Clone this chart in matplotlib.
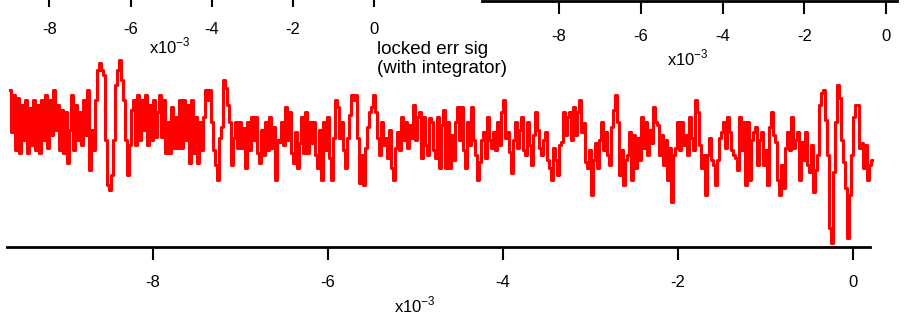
import numpy as np
import matplotlib
matplotlib.use("Agg")
import matplotlib.pyplot as plt

plt.rcParams["font.family"] = ["Liberation Sans", "DejaVu Sans"]

# locked error signal (arbitrary units) in six chunks, left to right
seg_a = [35, -7, 30, -25, 27, -28, 20, -15, 25, -28, 17, -20, 25, -25, 20, -28, 25, -15, 30, -23,
         25, -10, 35, -5, 20, -25, 15, -28, 13, -38, -5, 30, -25, 20, -15, 13, -20, 25, -10, 35,
         -45, -5, -25, 25, 55, 62, 55, 50, -15, -60, -65, -50, -15, 40, 55, 65, 45, 25, -15, -50,
         -20, 15, 25, -20, 30, -15, 25, -5, 30, -20, 20, -15, 25]
seg_b = [-12, 13, 30, -12, 25, -28, 3, -28, 18, -23, 8, -23, 25, -23, 25, -15, 20, -38, 25, -28,
         8, -38, 3, -25, 8, 35, 25, 35, 3, -25, -40, -55, -13, -2, 45, 37, 20, 3, -40, -13,
         3, -23, 3, -23, -3, -43, 3, -25, 8, -15, 8, -28, -38, -5, -30, 3, -25, 8, -23, -2,
         -55, -15, -17, 3, -20, 18, -15, 13, -28, -38, -7, -43, -18]
seg_c = [8, -28, 13, -28, 3, -18, 3, -30, -43, -5, -55, 3, -25, 8, -33, -55, -13, 25, 18, -13,
         3, -25, -43, -13, 10, 30, 25, 30, -13, -58, -30, -60, -23, -2, 13, 18, 30, 13, -13, -30,
         3, -20, -13, -33, -5, -43, -55, -23, -7, -25, 8, -15, 3, -23, 0, -13, 20, -15, 8, 13,
         -33, 8, -20, -30, 7, 3, -25, -33, 8, -43, 0, 15]
seg_d = [-43, 3, -43, -10, -35, 3, 18, -15, 18, -25, -43, 3, -20, 18, -15, -30, -55, -37, -15, -7,
         -33, 8, -15, -23, -7, -25, 3, -20, 13, 25, -13, -7, -27, -48, -15, 3, -23, -5, 8, -25,
         -30, 3, -20, -40, -10, 13, -5, -23, -30, -15, -7, -35, -43, -55, -23, -35, -50, -20, -17, 13,
         -10, 8, 13, -15, 18, -10, 13, 25, -7, 2, -37, -43, -25]
seg_e = [-70, -35, -18, -43, -15, 3, -25, -7, -30, -40, -2, 15, 30, 3, -50, -25, -60, -35, -30, -7,
         -55, -10, -43, -13, -35, 8, -23, 3, -30, -5, -18, 18, 3, 0, -30, -10, -40, -15, -55, -23,
         -77, -30, -23, 3, -25, 3, -20, -10, -30, 8, -13, -25, 25, 13, -20, -43, -30, -70, -30, -13,
         -35, -40, -60, -35, -13, -7, 3, -23, 8, -7, -25, -30]
seg_f = [-33, -45, 8, -25, 3, -60, 3, -55, -15, -7, -2, -40, -15, -7, -40, -25, -60, -2, 13, -10,
         -17, -55, -70, -40, -63, -23, -7, -25, 8, -23, -15, -7, -55, -17, -35, -7, -40, -47, -20, -67,
         -45, -30, 20, 32, 35, 5, -30, -103, -118, -47, 3, 40, 27, -15, -37, -63, -113, -70, -30, 8,
         20, 20, -23, -18, -43, -20, -55, -40, -35]
err_sig = np.array(seg_a + seg_b + seg_c + seg_d + seg_e + seg_f, dtype=float)

t_start, t_end = -9.634e-3, 0.217e-3
t = np.linspace(t_start, t_end, len(err_sig))

tick_vals = [-8e-3, -6e-3, -4e-3, -2e-3, 0]
tick_labels = ["-8", "-6", "-4", "-2", "0"]

W, H = 918, 325
fig = plt.figure(figsize=(W / 100, H / 100), dpi=100)


def strip_axis(ax, xlim, labelsize=12):
    ax.set_xlim(*xlim)
    for s in ["top", "left", "right"]:
        ax.spines[s].set_visible(False)
    ax.spines["bottom"].set_linewidth(2)
    ax.set_yticks([])
    ax.set_xticks(tick_vals)
    ax.set_xticklabels(tick_labels)
    ax.tick_params(axis="x", direction="out", length=9, width=1.5, pad=11,
                   labelsize=labelsize)
    ax.patch.set_alpha(0)


# top-left panel, only its tick row peeks in
ax_tl = fig.add_axes([-27 / W, 1 + 6 / H, 412 / W, 0.3])
strip_axis(ax_tl, (-9.884e-3, 0.269e-3))
fig.text(170 / W, 1 - 46 / H, "x10$^{\\mathregular{-3}}$", ha="center", va="center", fontsize=12)

# top-right panel
ax_tr = fig.add_axes([482 / W, 1 - 1 / H, 415 / W, 0.3])
strip_axis(ax_tr, (-9.884e-3, 0.269e-3))
fig.text(688 / W, 1 - 58 / H, "x10$^{\\mathregular{-3}}$", ha="center", va="center", fontsize=12)

# main panel
ax = fig.add_axes([7 / W, 1 - 247 / H, 863 / W, 207 / H])
ax.plot(t, err_sig, color="red", lw=2.2, drawstyle="steps-mid", clip_on=False)
ax.set_ylim(-122, 85)
strip_axis(ax, (-9.669e-3, 0.194e-3))
fig.text(415 / W, 1 - 305 / H, "x10$^{\\mathregular{-3}}$", ha="center", va="center", fontsize=12)

fig.text(377 / W, 1 - 59 / H, "locked err sig\n(with integrator)", ha="left", va="center",
         fontsize=13.5, linespacing=1.2)

fig.savefig("out.png", dpi=100)
